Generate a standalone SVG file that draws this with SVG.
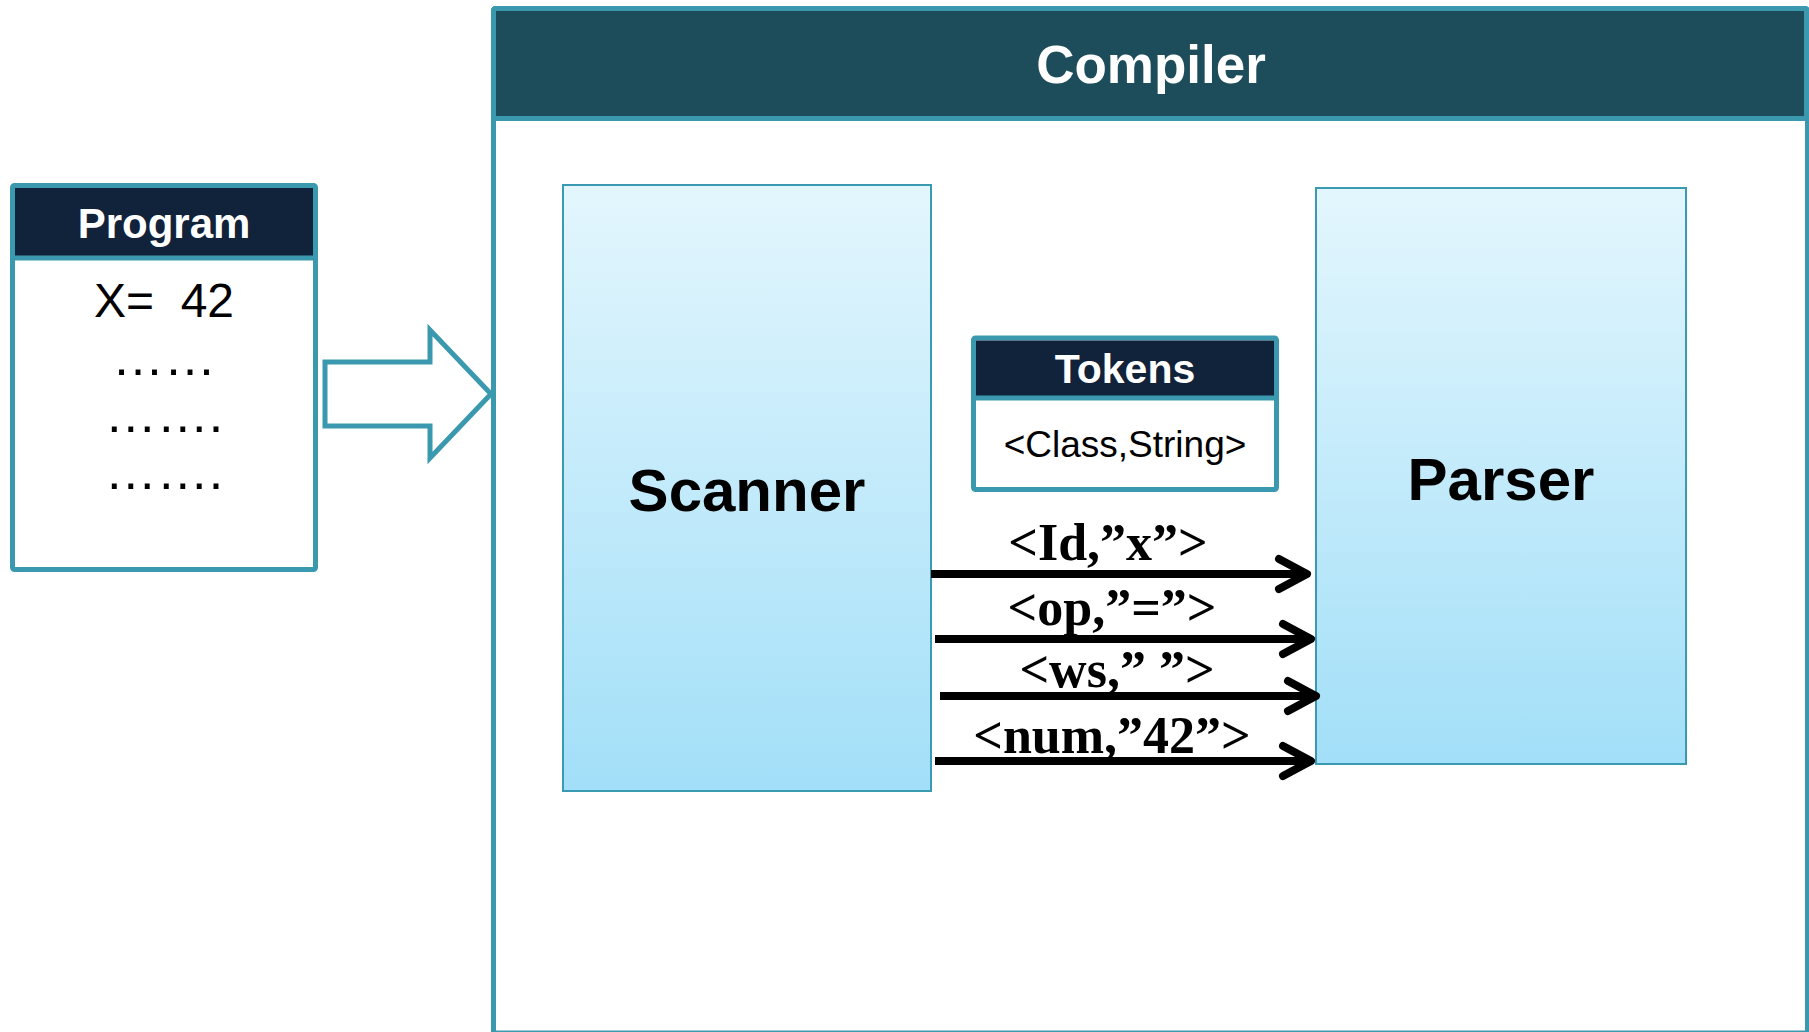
<svg xmlns="http://www.w3.org/2000/svg" width="1809" height="1032" viewBox="0 0 1809 1032">
  <defs>
    <linearGradient id="stageFill" x1="0" y1="0" x2="0" y2="1">
      <stop offset="0" stop-color="#e3f6fd"/>
      <stop offset="1" stop-color="#a2dff8"/>
    </linearGradient>
    <marker id="chevron" markerUnits="userSpaceOnUse" orient="auto" refX="0" refY="0" markerWidth="40" markerHeight="40" overflow="visible">
      <path d="M-26,-15 L2,0 L-26,15" fill="none" stroke="#000" stroke-width="8" stroke-linecap="round" stroke-linejoin="round"/>
    </marker>
    <style>
      .frame { fill: #ffffff; stroke: #3a99af; stroke-width: 5; }
      .band-navy { fill: #11223b; }
      .band-teal { fill: #1d4c5a; stroke: #3a99af; stroke-width: 5; }
      .rule { stroke: #3a99af; stroke-width: 5; }
      .stage { fill: url(#stageFill); stroke: #3a9ab1; stroke-width: 2; }
      .sans { font-family: "Liberation Sans", Arial, sans-serif; }
      .head { font-weight: bold; fill: #ffffff; text-anchor: middle; }
      .body { fill: #000000; text-anchor: middle; white-space: pre; }
      .stage-label { font-weight: bold; font-size: 60px; fill: #000; text-anchor: middle; }
      .token { font-family: "Liberation Serif", "Times New Roman", serif; font-weight: bold; font-size: 52px; fill: #000; text-anchor: middle; white-space: pre; }
      .flow { stroke: #000; stroke-width: 8; fill: none; marker-end: url(#chevron); }
    </style>
  </defs>

  <rect width="1809" height="1032" fill="#ffffff"/>

  <!-- Compiler container (runs off the right and bottom edges) -->
  <g id="compiler">
    <rect class="frame" x="493.5" y="8.5" width="1314" height="1024.5" rx="2"/>
    <rect class="band-teal" x="493.5" y="8.5" width="1313" height="110" rx="2"/>
    <text class="sans head" x="1151" y="83" font-size="53">Compiler</text>
  </g>

  <!-- Source program listing -->
  <g id="program">
    <rect class="frame" x="12.5" y="185.5" width="303" height="384" rx="2"/>
    <rect class="band-navy" x="15" y="188" width="298" height="70"/>
    <line class="rule" x1="12.5" y1="258" x2="315.5" y2="258"/>
    <text class="sans head" x="164" y="238" font-size="42">Program</text>
    <text class="sans body" x="164" y="317" font-size="48">X=  42</text>
    <text class="sans body" x="164" y="375" font-size="52">……</text>
    <text class="sans body" x="164" y="432" font-size="52">…….</text>
    <text class="sans body" x="164" y="489" font-size="52">…….</text>
  </g>

  <!-- Hollow block arrow into the compiler -->
  <g id="input-arrow">
    <polygon points="325,362 430,362 430,330 491,394 430,458 430,426 325,426" fill="#ffffff" stroke="#3a99af" stroke-width="5"/>
  </g>

  <!-- Scanner stage -->
  <g id="scanner">
    <rect class="stage" x="563" y="185" width="368" height="606"/>
    <text class="sans stage-label" x="747" y="511">Scanner</text>
  </g>

  <!-- Parser stage -->
  <g id="parser">
    <rect class="stage" x="1316" y="188" width="370" height="576"/>
    <text class="sans stage-label" x="1501" y="500">Parser</text>
  </g>

  <!-- Token format legend -->
  <g id="tokens">
    <rect class="frame" x="973.5" y="338" width="303" height="151.5" rx="2"/>
    <rect class="band-navy" x="976" y="340.5" width="298" height="57.5"/>
    <line class="rule" x1="973.5" y1="398" x2="1276.5" y2="398"/>
    <text class="sans head" x="1125" y="383" font-size="41">Tokens</text>
    <text class="sans body" x="1125" y="457" font-size="37">&lt;Class,String&gt;</text>
  </g>

  <!-- Token stream from scanner to parser -->
  <g id="connectors">
    <line class="flow" x1="931" y1="574" x2="1305" y2="574"/>
    <line class="flow" x1="935" y1="639" x2="1309" y2="639"/>
    <line class="flow" x1="940" y1="696" x2="1314" y2="696"/>
    <line class="flow" x1="935" y1="761" x2="1309" y2="761"/>
    <text class="token" x="1108" y="560">&lt;Id,”x”&gt;</text>
    <text class="token" x="1112" y="625">&lt;op,”=”&gt;</text>
    <text class="token" x="1117" y="687">&lt;ws,” ”&gt;</text>
    <text class="token" x="1112" y="753">&lt;num,”42”&gt;</text>
  </g>
</svg>
